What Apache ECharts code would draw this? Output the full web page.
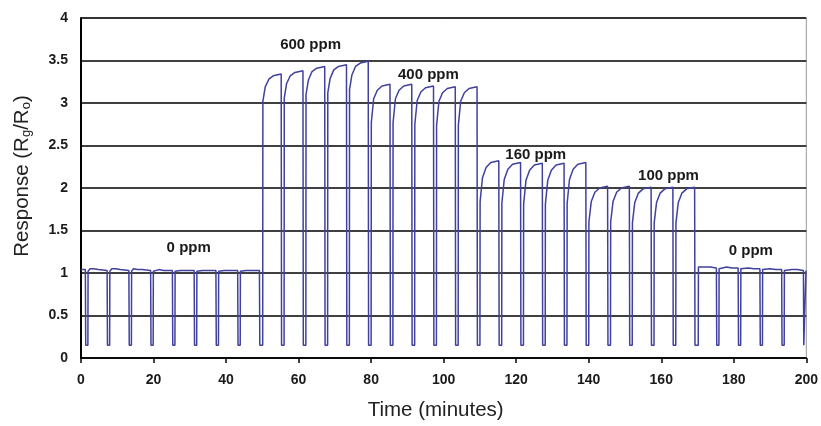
<!DOCTYPE html>
<html>
<head>
<meta charset="utf-8">
<script src="https://cdn.jsdelivr.net/npm/echarts@6/dist/echarts.min.js"></script>
<style>
html,body{margin:0;padding:0;background:#fff;overflow:hidden;width:821px;height:426px;}
#chart{width:821px;height:426px;}
</style>
</head>
<body>
<div id="chart"></div>
<script>
// Time (minutes) / response pairs, by gas concentration
var seg0a = [
  [0,1.04],[1.2,1.04],
  [1.3,0.15],[1.9,0.15],[1.95,1.02],[2.5,1.05],[3.5,1.05],[4.8,1.04],[7.2,1.03],
  [7.3,0.15],[7.9,0.15],[7.95,1.02],[8.5,1.05],[9.5,1.05],[10.8,1.04],[13.2,1.03],
  [13.3,0.15],[13.9,0.15],[13.95,1.02],[14.5,1.05],[15.5,1.04],[16.8,1.04],[19.2,1.03],
  [19.3,0.15],[19.9,0.15],[19.95,1.02],[20.5,1.04],[21.5,1.04],[22.8,1.03],[25.2,1.03],
  [25.3,0.15],[25.9,0.15],[25.95,1.02],[26.5,1.03],[27.5,1.03],[28.8,1.03],[31.2,1.03],
  [31.3,0.15],[31.9,0.15],[31.95,1.02],[32.5,1.03],[33.5,1.03],[34.8,1.03],[37.2,1.03],
  [37.3,0.15],[37.9,0.15],[37.95,1.02],[38.5,1.03],[39.5,1.03],[40.8,1.03],[43.2,1.03],
  [43.3,0.15],[43.9,0.15],[43.95,1.02],[44.5,1.03],[45.5,1.03],[46.8,1.03],[49.2,1.03]
];
var seg600 = [
  [49.3,0.15],[50.1,0.15],[50.15,3.02],[50.8,3.19],[51.8,3.28],[53.0,3.32],[55.2,3.34],
  [55.3,0.15],[56.0,0.15],[56.05,3.06],[56.7,3.23],[57.7,3.32],[59.0,3.36],[61.2,3.38],
  [61.3,0.15],[62.0,0.15],[62.05,3.10],[62.7,3.27],[63.7,3.37],[65.0,3.41],[67.2,3.43],
  [67.3,0.15],[68.0,0.15],[68.05,3.12],[68.7,3.29],[69.7,3.39],[71.0,3.43],[73.2,3.45],
  [73.3,0.15],[74.0,0.15],[74.05,3.16],[74.7,3.33],[75.7,3.43],[77.0,3.47],[79.2,3.49]
];
var seg400 = [
  [79.3,0.15],[80.0,0.15],[80.05,2.77],[80.7,3.05],[81.7,3.15],[83.0,3.20],[85.2,3.22],
  [85.3,0.15],[86.0,0.15],[86.05,2.77],[86.7,3.05],[87.7,3.15],[89.0,3.20],[91.2,3.22],
  [91.3,0.15],[92.0,0.15],[92.05,2.75],[92.7,3.03],[93.7,3.13],[95.0,3.18],[97.2,3.20],
  [97.3,0.15],[98.0,0.15],[98.05,2.74],[98.7,3.02],[99.7,3.12],[101.0,3.17],[103.2,3.19],
  [103.3,0.15],[104.0,0.15],[104.05,2.74],[104.7,3.02],[105.7,3.12],[107.0,3.17],[109.2,3.19]
];
var seg160 = [
  [109.3,0.15],[110.0,0.15],[110.05,1.84],[110.7,2.12],[111.7,2.24],[113.0,2.30],[115.2,2.32],
  [115.3,0.15],[116.0,0.15],[116.05,1.82],[116.7,2.10],[117.7,2.22],[119.0,2.28],[121.2,2.30],
  [121.3,0.15],[122.0,0.15],[122.05,1.81],[122.7,2.09],[123.7,2.21],[125.0,2.27],[127.2,2.29],
  [127.3,0.15],[128.0,0.15],[128.05,1.81],[128.7,2.09],[129.7,2.21],[131.0,2.27],[133.2,2.29],
  [133.3,0.15],[134.0,0.15],[134.05,1.82],[134.7,2.10],[135.7,2.22],[137.0,2.28],[139.2,2.30]
];
var seg100 = [
  [139.3,0.15],[140.0,0.15],[140.05,1.60],[140.7,1.84],[141.7,1.95],[143.0,2.00],[145.2,2.02],
  [145.3,0.15],[146.0,0.15],[146.05,1.60],[146.7,1.84],[147.7,1.95],[149.0,2.00],[151.2,2.02],
  [151.3,0.15],[152.0,0.15],[152.05,1.59],[152.7,1.83],[153.7,1.94],[155.0,1.99],[157.2,2.01],
  [157.3,0.15],[158.0,0.15],[158.05,1.59],[158.7,1.83],[159.7,1.94],[161.0,1.99],[163.2,2.01],
  [163.3,0.15],[164.0,0.15],[164.05,1.59],[164.7,1.83],[165.7,1.94],[167.0,1.99],[169.2,2.01]
];
var seg0b = [
  [169.3,0.15],[170.2,0.15],[170.25,1.07],[171.5,1.07],[173.5,1.07],[175.2,1.06],
  [175.3,0.15],[175.9,0.15],[175.95,1.05],[176.5,1.07],[178,1.07],[179.5,1.06],[181.2,1.06],
  [181.3,0.15],[181.9,0.15],[181.95,1.05],[182.5,1.06],[184,1.06],[185.5,1.05],[187.2,1.05],
  [187.3,0.15],[187.9,0.15],[187.95,1.04],[188.5,1.05],[190,1.05],[191.5,1.04],[193.2,1.04],
  [193.3,0.15],[193.9,0.15],[193.95,1.03],[194.5,1.05],[196,1.04],[197.5,1.04],[199.2,1.03],
  [199.3,0.15],[199.85,0.15],[199.9,1.03],[200,1.03]
];
var annotationText = ['600 ppm','400 ppm','160 ppm','100 ppm','0 ppm','0 ppm'];
var annotationAt = [[63.3,3.68],[95.8,3.33],[125.4,2.39],[162,2.14],[29.7,1.30],[184.7,1.26]];

var responseData = seg0a.concat(seg600, seg400, seg160, seg100, seg0b);

var chart = echarts.init(document.getElementById('chart'), null, {renderer:'canvas', width:821, height:426});
var FONT = 'Liberation Sans, Arial, sans-serif';
var labelFont = {fontFamily:FONT, fontWeight:'bold', fontSize:14, color:'#1a1a1a'};
chart.setOption({
  animation:false,
  backgroundColor:'#fff',
  grid:{left:81,right:13,top:18,bottom:64,show:true,borderColor:'#9a9a9a',borderWidth:1},
  xAxis:{
    type:'value',min:0,max:200,interval:20,
    name:'Time (minutes)',nameLocation:'middle',nameGap:42,
    nameTextStyle:{fontFamily:FONT,fontSize:20.5,color:'#222',padding:[0,16,0,0]},
    axisLine:{show:true,lineStyle:{color:'#000',width:1.5}},
    axisTick:{show:true,length:5,lineStyle:{color:'#000',width:1.5}},
    axisLabel:Object.assign({margin:15},labelFont),
    splitLine:{show:false}
  },
  yAxis:{
    type:'value',min:0,max:4,interval:0.5,
    name:'Response (R{sub|g}/R{sub|o})',nameLocation:'middle',nameGap:48,
    nameTextStyle:{fontFamily:FONT,fontSize:20.5,color:'#222',padding:[0,0,0,24],
      rich:{sub:{fontFamily:FONT,fontSize:13,color:'#222',padding:[9,0,0,0]}}},
    axisLine:{show:true,lineStyle:{color:'#000',width:2}},
    axisTick:{show:false},
    axisLabel:Object.assign({margin:13},labelFont),
    splitLine:{show:true,lineStyle:{color:'#000',width:1.6}}
  },
  series:[{
    type:'line',
    data:responseData,
    showSymbol:false,
    symbol:'none',
    smooth:false,
    silent:true,
    lineStyle:{color:'#40409f',width:1.5},
    markPoint:{
      symbol:'circle',symbolSize:0,silent:true,
      label:{show:true,position:'inside',formatter:'{b}',
        fontFamily:FONT,fontWeight:'bold',fontSize:15,color:'#1a1a1a'},
      data:annotationText.map(function(t,i){return {name:t,coord:annotationAt[i]};})
    }
  }]
});
</script>
</body>
</html>
